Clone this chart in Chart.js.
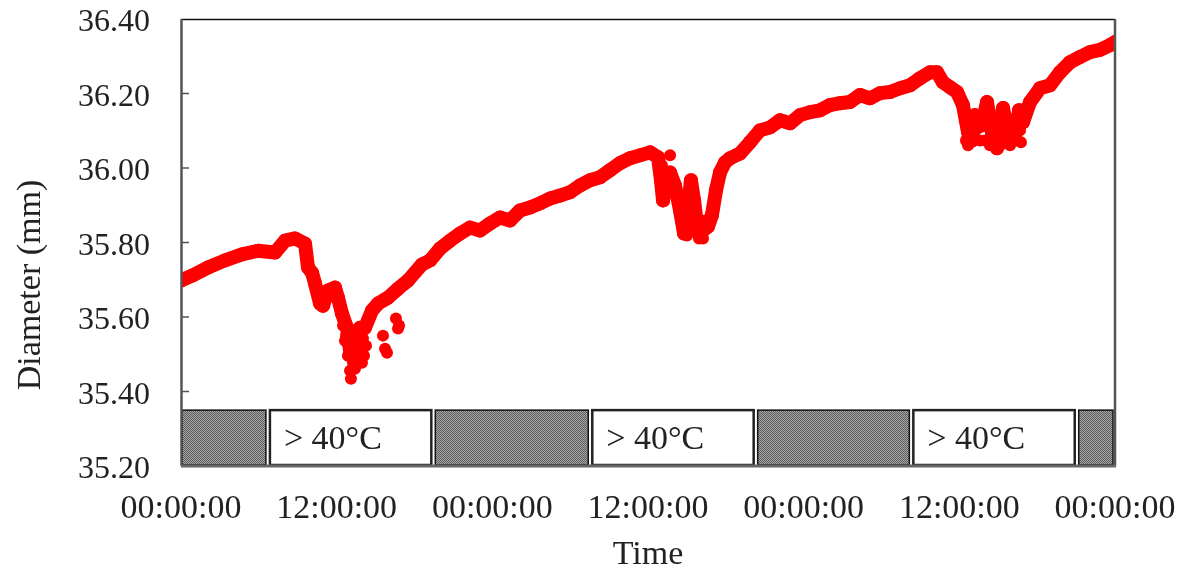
<!DOCTYPE html>
<html>
<head>
<meta charset="utf-8">
<script src="https://cdn.jsdelivr.net/npm/chart.js"></script>
<style>
  html, body { margin: 0; padding: 0; background: #fff; }
</style>
</head>
<body>
<canvas id="chart" width="1182" height="573"></canvas>
<script>
// hours since the first midnight, stem diameter in mm
const hours = [
  0.00, 0.85, 2.08, 3.39, 4.70, 5.94, 7.25, 8.02, 8.79, 9.56, 9.79, 10.10, 10.33, 10.72, 10.95,
  11.33, 11.87, 12.10, 12.41, 12.80, 13.03, 13.41, 13.80, 14.18, 14.72, 15.19, 15.96, 16.73, 17.50,
  18.58, 19.20, 19.97, 20.74, 21.51, 22.28, 23.05, 23.82, 24.59, 25.36, 26.13, 26.90, 27.67, 28.45,
  29.22, 29.99, 30.76, 31.53, 32.30, 33.07, 33.84, 34.61, 35.38, 36.15, 36.77, 37.00, 37.16, 37.39,
  37.70, 38.08, 38.47, 38.78, 39.08, 39.31, 39.55, 39.85, 40.24, 40.63, 40.93, 41.24, 41.55, 41.94,
  42.32, 43.09, 43.86, 44.63, 45.41, 46.18, 46.95, 47.72, 48.49, 49.26, 50.03, 50.80, 51.57, 52.34,
  53.11, 53.88, 54.66, 55.43, 56.20, 56.97, 57.74, 58.28, 58.74, 59.28, 59.82, 60.28, 60.67, 60.98,
  61.21, 61.75, 62.13, 62.52, 62.90, 63.37, 63.75, 64.29, 64.60, 64.91, 65.45, 66.22, 66.99, 67.76,
  68.53, 69.30, 70.07, 70.84, 71.62, 72.00
];
const diameter = [
  35.698, 35.711, 35.733, 35.752, 35.768, 35.778, 35.773, 35.805, 35.811, 35.797, 35.733, 35.719, 35.690, 35.636, 35.630,
  35.671, 35.679, 35.652, 35.609, 35.571, 35.509, 35.555, 35.571, 35.571, 35.617, 35.636, 35.652, 35.676, 35.698,
  35.741, 35.752, 35.784, 35.805, 35.824, 35.840, 35.832, 35.851, 35.867, 35.859, 35.886, 35.894, 35.905, 35.918,
  35.926, 35.935, 35.953, 35.967, 35.975, 35.994, 36.013, 36.026, 36.034, 36.042, 36.029, 35.967, 35.913, 35.980,
  35.988, 35.953, 35.886, 35.824, 35.886, 35.967, 35.913, 35.827, 35.832, 35.843, 35.873, 35.940, 35.988, 36.015,
  36.026, 36.039, 36.069, 36.101, 36.109, 36.128, 36.120, 36.142, 36.150, 36.155, 36.169, 36.174, 36.177, 36.196,
  36.187, 36.201, 36.204, 36.214, 36.222, 36.241, 36.257, 36.257, 36.230, 36.217, 36.204, 36.169, 36.096, 36.074,
  36.142, 36.115, 36.177, 36.096, 36.053, 36.161, 36.088, 36.088, 36.155, 36.123, 36.177, 36.214, 36.222, 36.257,
  36.284, 36.298, 36.311, 36.317, 36.330, 36.338
];

// scattered readings around the three afternoon dips
const spreadHours = [
  12.64, 12.87, 13.03, 13.10, 13.26, 13.49, 13.64, 13.95, 14.11, 13.18, 12.64, 13.57, 14.34, 15.57, 15.73, 15.88, 16.57, 16.73, 16.81,
  12.49, 12.72, 12.95, 13.18, 13.34, 13.57, 13.72, 13.88, 14.03, 13.41, 14.26,
  37.08, 37.70, 38.78, 39.01, 39.93, 40.24, 40.39,
  60.44, 60.67, 60.82, 61.44, 61.98, 62.36, 62.75, 63.14, 63.52, 63.91, 64.14, 64.45, 64.68, 65.06,
  60.51, 60.98, 61.59, 61.90, 62.36, 62.67, 63.06, 63.60, 63.98, 64.37, 64.75
];
const spreadDiameter = [
  35.536, 35.496, 35.456, 35.434, 35.477, 35.509, 35.523, 35.477, 35.496, 35.550, 35.590, 35.563, 35.590, 35.550, 35.515, 35.504, 35.596, 35.569, 35.577,
  35.577, 35.550, 35.523, 35.504, 35.523, 35.536, 35.496, 35.515, 35.542, 35.461, 35.523,
  36.007, 36.034, 35.873, 35.819, 35.811, 35.811, 35.859,
  36.128, 36.061, 36.080, 36.107, 36.074, 36.128, 36.074, 36.061, 36.128, 36.061, 36.115, 36.074, 36.101, 36.155,
  36.074, 36.115, 36.074, 36.134, 36.061, 36.115, 36.101, 36.074, 36.107, 36.128, 36.069
];

const xTickLabels = ['00:00:00', '12:00:00', '00:00:00', '12:00:00', '00:00:00', '12:00:00', '00:00:00'];

// periods above 40 °C (hours)
const heatStart = [6.7, 31.55, 56.3];
const heatEnd = [19.45, 44.3, 69.05];
const heatLabel = '> 40°C';
const bandTop = 35.35;

const FONT = '"Liberation Serif", "Times New Roman", serif';
const TEXT = '#222';

function dotPattern(ctx) {
  const c = document.createElement('canvas');
  c.width = 2; c.height = 2;
  const p = c.getContext('2d');
  p.fillStyle = '#a6a6a6';
  p.fillRect(0, 0, 2, 2);
  p.fillStyle = '#5c5c5c';
  p.fillRect(0, 0, 1, 1);
  p.fillRect(1, 1, 1, 1);
  return ctx.createPattern(c, 'repeat');
}

const decorations = {
  id: 'decorations',
  afterDatasetsDraw(chart) {
    const { ctx, chartArea: a, scales: { x, y } } = chart;
    ctx.save();

    const top = y.getPixelForValue(bandTop);
    const bot = a.bottom - 1;

    // grey boxes (nights) between the hot periods
    const darkFrom = [0].concat(heatEnd);
    const darkTo = heatStart.concat([72]);
    ctx.fillStyle = dotPattern(ctx);
    ctx.strokeStyle = '#111';
    ctx.lineWidth = 1.5;
    for (let i = 0; i < darkFrom.length; i++) {
      const l = x.getPixelForValue(darkFrom[i]) + (i === 0 ? 1 : 2);
      const r = x.getPixelForValue(darkTo[i]) - 2;
      ctx.fillRect(l, top, r - l, bot - top);
      ctx.strokeRect(l, top, r - l, bot - top);
    }

    // white boxes with the label
    ctx.font = '34px ' + FONT;
    ctx.textBaseline = 'middle';
    ctx.textAlign = 'left';
    for (let i = 0; i < heatStart.length; i++) {
      const l = x.getPixelForValue(heatStart[i]) + 2;
      const r = x.getPixelForValue(heatEnd[i]) - 2;
      ctx.fillStyle = '#fff';
      ctx.fillRect(l, top, r - l, bot - top);
      ctx.strokeStyle = '#222';
      ctx.lineWidth = 2.5;
      ctx.strokeRect(l, top, r - l, bot - top);
      ctx.fillStyle = TEXT;
      ctx.fillText(heatLabel, l + 14, (top + bot) / 2 + 3);
    }

    // frame
    ctx.strokeStyle = '#111';
    ctx.lineWidth = 1.5;
    ctx.beginPath();
    ctx.moveTo(a.left, a.top + 0.5);
    ctx.lineTo(a.right, a.top + 0.5);
    ctx.stroke();
    ctx.strokeStyle = '#555';
    ctx.lineWidth = 2.5;
    ctx.beginPath();
    ctx.moveTo(a.right, a.top);
    ctx.lineTo(a.right, a.bottom);
    ctx.moveTo(a.left + 0.5, a.top);
    ctx.lineTo(a.left + 0.5, a.bottom);
    ctx.stroke();
    ctx.strokeStyle = '#666';
    ctx.lineWidth = 3;
    ctx.beginPath();
    ctx.moveTo(a.left, a.bottom);
    ctx.lineTo(a.right + 1, a.bottom);
    ctx.stroke();

    // inner tick marks on the y axis
    ctx.strokeStyle = '#555';
    ctx.lineWidth = 1.5;
    ctx.beginPath();
    y.ticks.forEach(t => {
      const py = y.getPixelForValue(t.value);
      if (py > a.top + 2 && py < a.bottom - 2) {
        ctx.moveTo(a.left, py);
        ctx.lineTo(a.left + 8, py);
      }
    });
    ctx.stroke();

    // axis titles
    ctx.fillStyle = TEXT;
    ctx.font = '34px ' + FONT;
    ctx.textAlign = 'center';
    ctx.textBaseline = 'middle';
    ctx.fillText('Time', 648, 555);
    ctx.translate(31, 285);
    ctx.rotate(-Math.PI / 2);
    ctx.fillText('Diameter (mm)', 0, 0);

    ctx.restore();
  }
};

new Chart(document.getElementById('chart'), {
  type: 'scatter',
  data: {
    datasets: [{
      label: 'Diameter',
      data: hours.map((h, i) => ({ x: h, y: diameter[i] })),
      showLine: true,
      borderColor: '#ff0000',
      borderWidth: 14,
      borderJoinStyle: 'round',
      borderCapStyle: 'round',
      pointRadius: 7,
      pointBackgroundColor: '#ff0000',
      pointBorderWidth: 0
    }, {
      label: 'Diameter (scatter)',
      data: spreadHours.map((h, i) => ({ x: h, y: spreadDiameter[i] })),
      pointRadius: 6,
      pointBackgroundColor: '#ff0000',
      pointBorderWidth: 0
    }]
  },
  options: {
    responsive: false,
    animation: false,
    layout: { padding: { top: 19, right: 67, left: 0, bottom: 0 } },
    plugins: {
      legend: { display: false },
      tooltip: { enabled: false }
    },
    scales: {
      x: {
        type: 'linear',
        min: 0,
        max: 72,
        afterFit: s => { s.height = 107; s.paddingLeft = 0; s.paddingRight = 0; },
        afterBuildTicks: s => { s.ticks = xTickLabels.map((_, i) => ({ value: i * 12 })); },
        grid: { display: false, drawTicks: false },
        border: { display: false },
        ticks: {
          autoSkip: false,
          maxRotation: 0,
          padding: 23,
          color: TEXT,
          font: { family: FONT, size: 34, lineHeight: 1.2 },
          callback: (v, i) => xTickLabels[i]
        }
      },
      y: {
        min: 35.2,
        max: 36.4,
        afterFit: s => { s.width = 181; s.paddingTop = 0; s.paddingBottom = 0; },
        grid: { display: false, drawTicks: false },
        border: { display: false },
        ticks: {
          stepSize: 0.2,
          padding: 31,
          labelOffset: 4,
          color: TEXT,
          font: { family: FONT, size: 32, lineHeight: 1.2 },
          callback: v => v.toFixed(2)
        }
      }
    }
  },
  plugins: [decorations]
});
</script>
</body>
</html>
